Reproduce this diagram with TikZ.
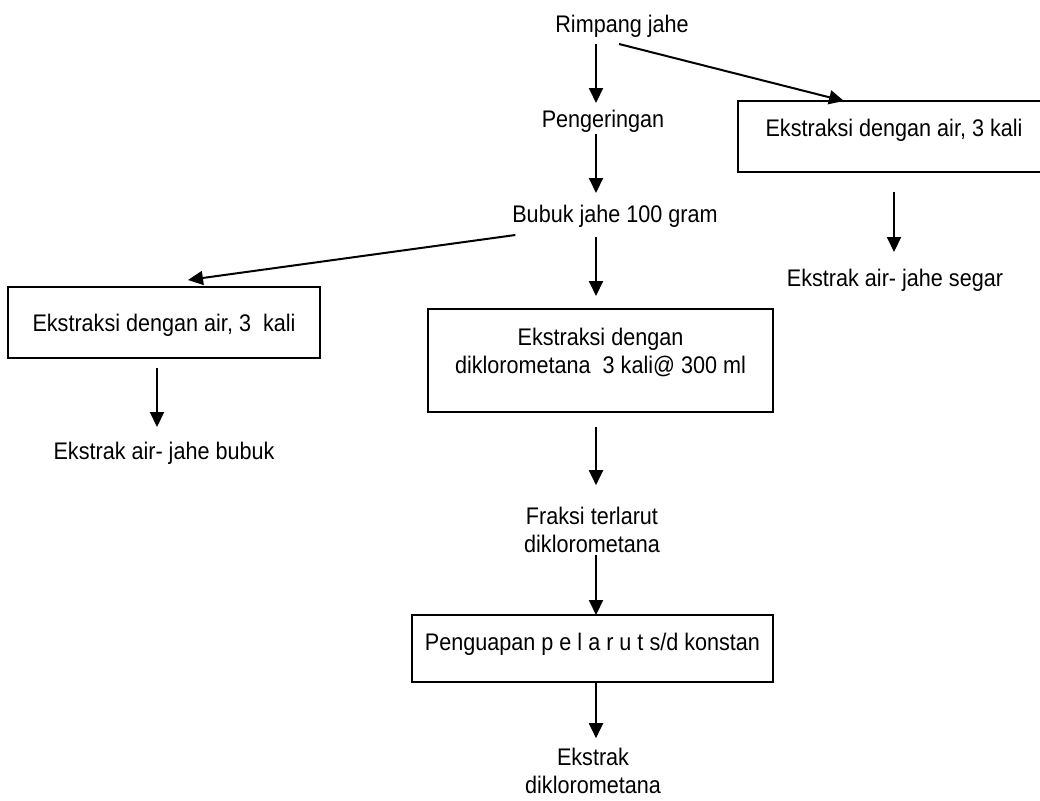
\documentclass[tikz,border=0pt]{standalone}
\usepackage{fontspec}
\setmainfont[FakeStretch=0.9]{Liberation Sans}
\usetikzlibrary{arrows.meta}

\begin{document}
\begin{tikzpicture}[x=1pt, y=-1pt, inner sep=0pt, outer sep=0pt,
  every node/.style={font=\fontsize{24}{28}\selectfont},
  lbl/.style={text height=17pt, text depth=5pt},
  blk/.style={draw=black, line width=1.6pt},
  flow/.style={-{Triangle[length=15pt,width=14pt]}, line width=2pt}]
\useasboundingbox (0,0) rectangle (1040,800);
\coordinate (spine) at (596,0);
% labels
\node[lbl] (rimpang) at (622,27) {Rimpang jahe};
\node[lbl] (pengeringan) at (603,121) {Pengeringan};
\node[lbl] (bubuk) at (615,216) {Bubuk jahe 100 gram};
\node[lbl] (segar) at (895,280) {Ekstrak air- jahe segar};
\node[lbl] (bubuktext) at (164,453) {Ekstrak air- jahe bubuk};
\node[align=center] (fraksi) at (592,530) {Fraksi terlarut\\diklorometana};
\node[align=center] (ekstrak) at (593,771) {Ekstrak\\diklorometana};
% boxes
\node[blk, minimum width=312pt, minimum height=71pt, text height=17pt, text depth=17pt] (airsegar) at (894,136.5) {Ekstraksi dengan air, 3 kali};
\node[blk, minimum width=312pt, minimum height=71pt, text height=17pt, text depth=0pt] (airbubuk) at (164,322.5) {Ekstraksi dengan air, 3~~kali};
\node[blk, align=center, minimum width=345pt, minimum height=103pt, text height=45pt, text depth=20pt] (dcm) at (600.5,360.5) {Ekstraksi dengan\\diklorometana~~3 kali@ 300 ml};
\node[blk, minimum width=361pt, minimum height=67pt, text height=17pt, text depth=14pt] (uap) at (592.5,648.5) {Penguapan p e l a r u t s/d konstan};
% arrows
\draw[flow, shorten <=6pt, shorten >=7pt] (rimpang.south -| spine) -- (pengeringan.north -| spine);
\draw[flow, shorten <=2pt, shorten >=12pt] (pengeringan.south -| spine) -- (bubuk.north -| spine);
\draw[flow, shorten <=10pt, shorten >=13pt] (bubuk.south -| spine) -- (dcm.north -| spine);
\draw[flow, shorten <=15pt, shorten >=22pt] (dcm.south -| spine) -- (fraksi.north -| spine);
\draw[flow, shorten <=2pt] (fraksi.south -| spine) -- (uap.north -| spine);
\draw[flow, shorten >=10pt] (uap.south -| spine) -- (ekstrak.north -| spine);
\draw[flow] ([shift={(-3,6)}]rimpang.south) -- ([xshift=-50pt]airsegar.north);
\draw[flow, shorten <=20pt, shorten >=17pt] (airsegar.south) -- (airsegar.south |- segar.north);
\draw[flow] ([shift={(3,8)}]bubuk.south west) -- ([shift={(24,-7)}]airbubuk.north);
\draw[flow, shorten <=10pt, shorten >=15pt] ([xshift=-7pt]airbubuk.south) -- ([xshift=-7pt]airbubuk.south |- bubuktext.north);
\end{tikzpicture}
\end{document}
